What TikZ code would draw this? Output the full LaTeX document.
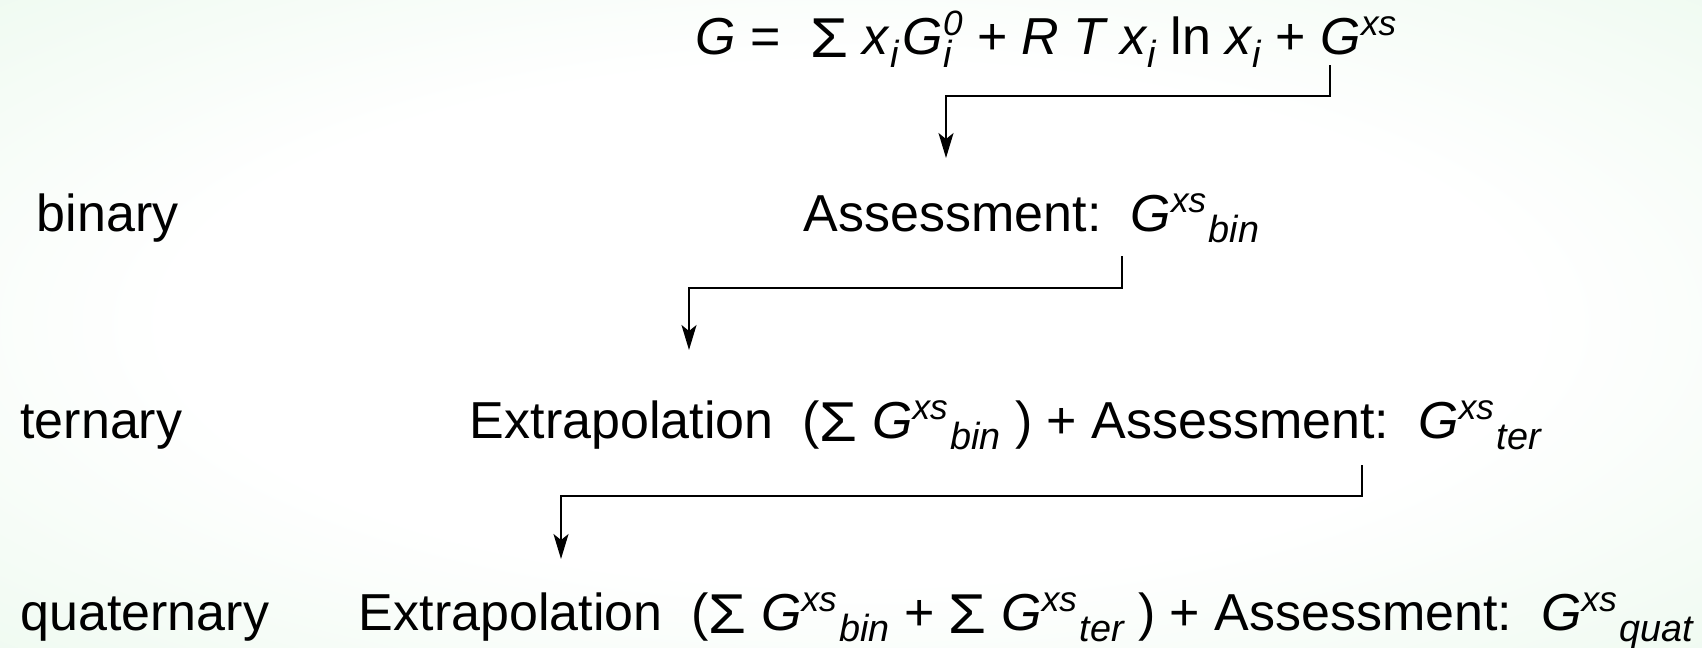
\documentclass[tikz,border=0pt]{standalone}
\usepackage{fontspec}
\setmainfont{Liberation Sans}
\usepackage{graphicx}
\usetikzlibrary{arrows.meta}

\definecolor{bggreen}{RGB}{226,246,229}
\newcommand\bigtxt{\fontsize{29.6}{34}\selectfont}
\newcommand\supit{\fontsize{20}{22}\selectfont\itshape}
\newcommand\subit{\fontsize{21.5}{24}\selectfont\itshape}
\newcommand\xsup[1]{\raisebox{0.36em}{\supit #1}}
\newcommand\xsub[1]{\kern0.05em\raisebox{-0.22em}{\subit #1}}
\newcommand\isub{\raisebox{-0.26em}{\subit i}}
\newcommand\Sum{\raisebox{-0.06em}{\scalebox{1.18}[1.08]{Σ}}}
\newcommand\Gxs[1]{\textit{G}\xsup{xs}\xsub{#1}}
\pgfdeclareradialshading{bgglow}{\pgfpoint{0bp}{0bp}}{color(0bp)=(white); color(20bp)=(white); color(50bp)=(bggreen); color(70bp)=(bggreen)}

\begin{document}
\begin{tikzpicture}[x=0.02cm, y=-0.02cm, line width=1.1pt,
  every node/.style={anchor=base west, inner sep=0pt, font=\bigtxt},
  >={Stealth[length=5mm, width=3mm, inset=1.2mm]}]
\shade[shading=bgglow] (0,0) rectangle (1702,647);
\useasboundingbox (0,0) rectangle (1702,647);

% system order
\node (bin) at (36,231) {binary};
\node (ter) at (19.5,438) {ternary};
\node (quat) at (19.5,630) {quaternary};

% Gibbs energy and the steps
\node (gibbs) at (695,54) {\textit{G} =~~\Sum{}~\textit{x}\isub\kern0.08em\textit{G}\rlap{\isub}\xsup{0} + \textit{R T x}\isub{} ln \textit{x}\isub{} + \textit{G}\xsup{xs}};
\node (assbin) at (803,231) {Assessment:~~\Gxs{bin}};
\node (asster) at (469,438) {Extrapolation~~(\Sum{}~\Gxs{bin}~) + Assessment:~~\Gxs{ter}};
\node (assquat) at (358,630) {Extrapolation~~(\Sum{}~\Gxs{bin}~+ \Sum{}~\Gxs{ter}~) + Assessment:~~\Gxs{quat}};

\coordinate (a1) at (1330,65);
\coordinate (b1) at (946,158);
\coordinate (a2) at (1122,256);
\coordinate (b2) at (689,350);
\coordinate (a3) at (1362,465);
\coordinate (b3) at (561,559);

\draw[->] (a1) -- ++(0,31) -| (b1);
\draw[->] (a2) -- ++(0,32) -| (b2);
\draw[->] (a3) -- ++(0,31) -| (b3);

\end{tikzpicture}
\end{document}
